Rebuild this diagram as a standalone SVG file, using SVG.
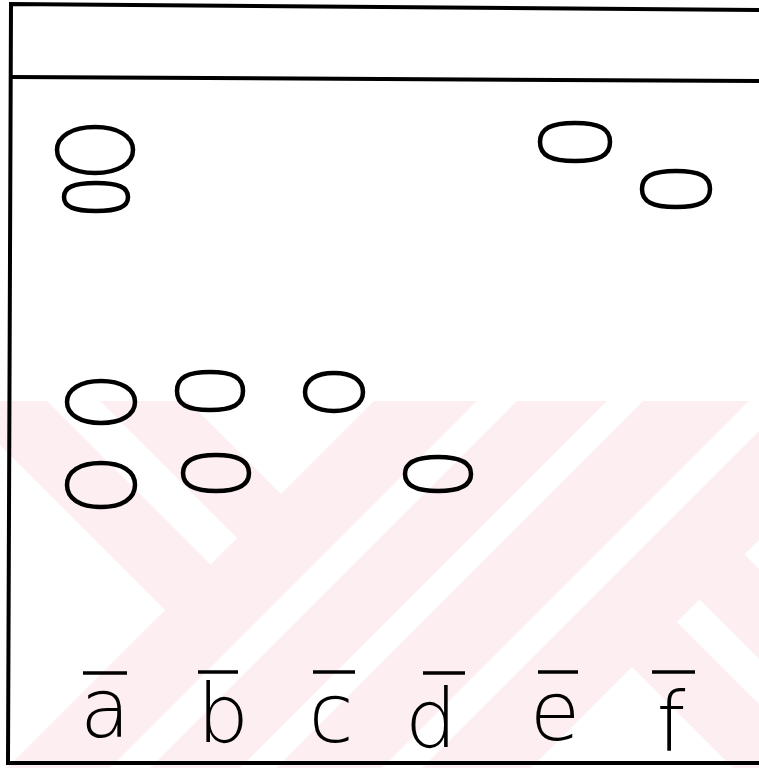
<svg xmlns="http://www.w3.org/2000/svg" width="759" height="768" viewBox="0 0 759 768">
<style>
.spot{fill:none;stroke:#000;stroke-width:4.5;stroke-linejoin:round}
.frame{fill:none;stroke:#000;stroke-width:4;stroke-linecap:square}
.bar{stroke:#000;stroke-width:3.5}
.lbl{font-family:"DejaVu Sans","Liberation Sans",sans-serif;font-size:82px;font-weight:200;fill:#000;text-anchor:middle}
.wm{fill:#fff}
</style>
<defs>
<clipPath id="wmclip"><rect x="0" y="401" width="759" height="367"/></clipPath>
</defs>
<rect x="0" y="0" width="759" height="768" fill="#fff"/>
<g id="watermark" clip-path="url(#wmclip)">
<rect x="0" y="401" width="759" height="367" fill="#fdeef1"/>
<polygon class="wm" points="0,445 165,610 0,775"/>
<polygon class="wm" points="47,401 100,401 237,538 210.5,564.5"/>
<polygon class="wm" points="188,401 374,401 281,494"/>
<polygon class="wm" points="477,401 517,401 150,768 110,768"/>
<polygon class="wm" points="607,401 643,401 276,768 240,768"/>
<polygon class="wm" points="749,401 789,401 422,768 382,768"/>
<polygon class="wm" points="632,667 531,768 733,768"/>
<polygon class="wm" points="699.5,599.5 759,659 759,704 677,622"/>
<polygon class="wm" points="744.5,554.5 759,540 759,569"/>
</g>
<g id="plate">
<path class="frame" d="M759,10 L11,4 L8,763 L759,763"/>
<path class="frame" d="M11,77 L759,81"/>
</g>
<g id="spots">
<path id="spot-a1" class="spot" d="M57,150 C57,136.2 72.2,127 95,127 C117.8,127 133,136.2 133,150 C133,163.8 117.8,173 95,173 C72.2,173 57,163.8 57,150Z"/>
<path id="spot-a2" class="spot" d="M64,197 C64,187.2 73.6,183 96,183 C118.4,183 128,187.2 128,197 C128,206.8 118.4,211 96,211 C73.6,211 64,206.8 64,197Z"/>
<path id="spot-e1" class="spot" d="M540,142 C540,128.7 550.5,123 575,123 C599.5,123 610,128.7 610,142 C610,155.3 599.5,161 575,161 C550.5,161 540,155.3 540,142Z"/>
<path id="spot-f1" class="spot" d="M642,189 C642,176.4 652.2,171 676,171 C699.8,171 710,176.4 710,189 C710,201.6 699.8,207 676,207 C652.2,207 642,201.6 642,189Z"/>
<path id="spot-a3" class="spot" d="M67,402 C67,389.4 80.6,381 101,381 C121.4,381 135,389.4 135,402 C135,414.6 121.4,423 101,423 C80.6,423 67,414.6 67,402Z"/>
<path id="spot-b1" class="spot" d="M177,391 C177,377.7 186.9,372 210,372 C233.1,372 243,377.7 243,391 C243,404.3 233.1,410 210,410 C186.9,410 177,404.3 177,391Z"/>
<path id="spot-c1" class="spot" d="M305,392 C305,380.2 316,373 334,373 C352,373 363,380.2 363,392 C363,403.8 352,411 334,411 C316,411 305,403.8 305,392Z"/>
<path id="spot-a4" class="spot" d="M67,485 C67,471.4 79.9,463 101,463 C122.1,463 135,471.4 135,485 C135,498.6 122.1,507 101,507 C79.9,507 67,498.6 67,485Z"/>
<path id="spot-b2" class="spot" d="M183,473 C183,460.8 193.6,455 216,455 C238.4,455 249,460.8 249,473 C249,485.2 238.4,491 216,491 C193.6,491 183,485.2 183,473Z"/>
<path id="spot-d1" class="spot" d="M405,474 C405,462.4 415.6,457 438,457 C460.4,457 471,462.4 471,474 C471,485.6 460.4,491 438,491 C415.6,491 405,485.6 405,474Z"/>
</g>
<g id="labels">
<g id="lane-a"><line class="bar" x1="83" y1="673" x2="127" y2="673"/><text class="lbl" x="105" y="737">a</text></g>
<g id="lane-b"><line class="bar" x1="198" y1="672" x2="238" y2="672"/><text class="lbl" x="223" y="742">b</text></g>
<g id="lane-c"><line class="bar" x1="313" y1="672" x2="355" y2="672"/><text class="lbl" x="331" y="742">c</text></g>
<g id="lane-d"><line class="bar" x1="423" y1="673" x2="465" y2="673"/><text class="lbl" x="431" y="747">d</text></g>
<g id="lane-e"><line class="bar" x1="538" y1="672" x2="578" y2="672"/><text class="lbl" x="555" y="740">e</text></g>
<g id="lane-f"><line class="bar" x1="652" y1="672" x2="695" y2="672"/><text class="lbl" x="671" y="750">f</text></g>
</g>
</svg>
